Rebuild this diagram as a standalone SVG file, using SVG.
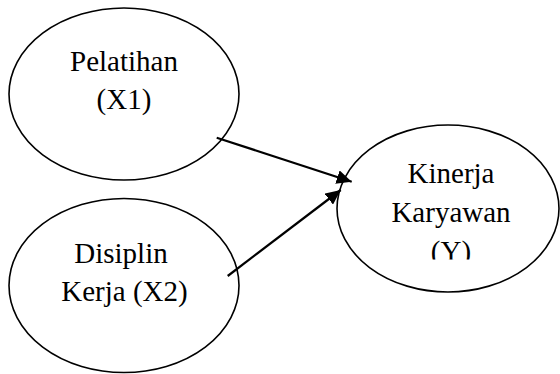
<svg xmlns="http://www.w3.org/2000/svg" width="560" height="374" viewBox="0 0 560 374">
<style>
.node ellipse{fill:#fff;stroke:#000;stroke-width:1.6}
.node text{font-family:'Liberation Serif','DejaVu Serif',serif;font-size:29px;fill:#000;text-anchor:middle}
.edge{stroke:#000;stroke-width:2.2;fill:none;marker-end:url(#ah)}
</style>
<defs>
<marker id="ah" markerUnits="userSpaceOnUse" markerWidth="16" markerHeight="14" refX="15" refY="7" orient="auto">
<path d="M0,0 L15,7 L0,14 Z" fill="#000"/>
</marker>
<clipPath id="clipY"><rect x="330" y="120" width="230" height="139.5"/></clipPath>
</defs>
<rect width="560" height="374" fill="#fff"/>
<g id="x1" class="node">
<ellipse cx="124" cy="94" rx="115" ry="86"/>
<text x="124" y="71">Pelatihan</text>
<text x="124" y="109">(X1)</text>
</g>
<g id="x2" class="node">
<ellipse cx="124" cy="285.5" rx="115" ry="87"/>
<text x="121" y="263">Disiplin</text>
<text x="124.5" y="301">Kerja (X2)</text>
</g>
<g id="y" class="node">
<ellipse cx="448" cy="208.5" rx="111" ry="83.5"/>
<g clip-path="url(#clipY)">
<text x="451" y="183">Kinerja</text>
<text x="451" y="222">Karyawan</text>
<text x="451" y="261">(Y)</text>
</g>
</g>
<g id="connectors">
<line class="edge" x1="216.7" y1="137.7" x2="351.7" y2="181.7"/>
<line class="edge" x1="227.7" y1="276" x2="340.7" y2="190"/>
</g>
</svg>
